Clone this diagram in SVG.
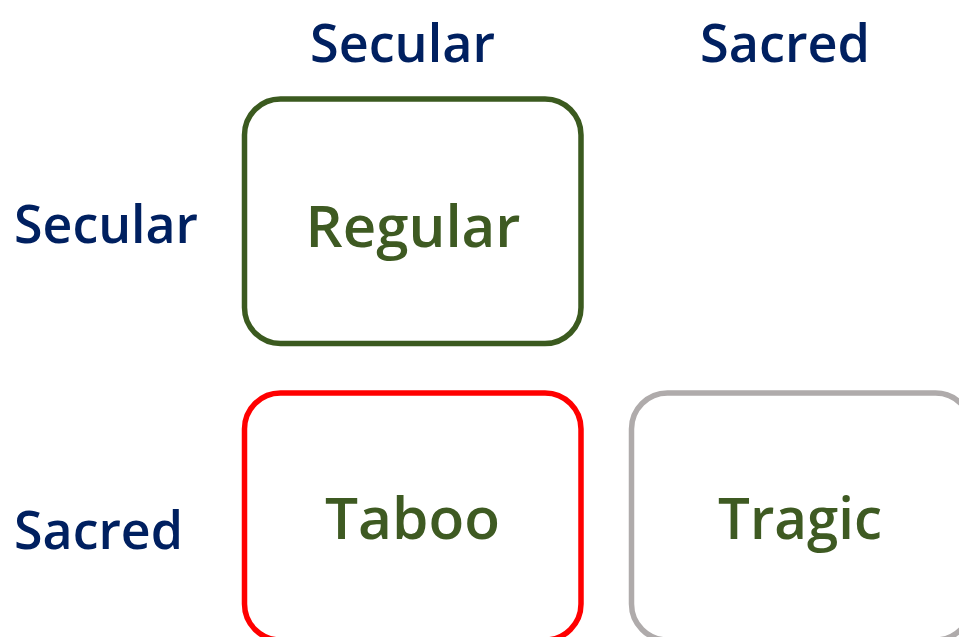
<svg xmlns="http://www.w3.org/2000/svg" width="959" height="637" viewBox="0 0 959 637">
<style>
.hdr{font-family:"Open Sans","Liberation Sans",sans-serif;font-size:53px;font-weight:600;fill:#002060}
.lbl{font-family:"Open Sans","Liberation Sans",sans-serif;font-size:58px;font-weight:600;fill:#3E5A22;text-anchor:middle}
.box{fill:#fff;stroke-width:5.5}
</style>
<rect width="959" height="637" fill="#fff"/>
<g id="headers">
<text class="hdr" x="310" y="62" textLength="185" lengthAdjust="spacingAndGlyphs">Secular</text>
<text class="hdr" x="700" y="62" textLength="170" lengthAdjust="spacingAndGlyphs">Sacred</text>
<text class="hdr" x="14" y="243" textLength="184" lengthAdjust="spacingAndGlyphs">Secular</text>
<text class="hdr" x="14" y="549" textLength="169" lengthAdjust="spacingAndGlyphs">Sacred</text>
</g>
<g id="regular">
<rect class="box" x="244.5" y="99" width="336.5" height="244.5" rx="36" stroke="#3B5A1F"/>
<text class="lbl" x="413" y="247" textLength="215" lengthAdjust="spacingAndGlyphs">Regular</text>
</g>
<g id="taboo">
<rect class="box" x="244.5" y="393" width="336.5" height="247" rx="36" stroke="#FF0000"/>
<text class="lbl" x="412.5" y="539" textLength="175" lengthAdjust="spacingAndGlyphs">Taboo</text>
</g>
<g id="tragic">
<rect class="box" x="631.5" y="393" width="340" height="247" rx="36" stroke="#AFABAB" stroke-width="6"/>
<text class="lbl" x="800" y="539" textLength="164" lengthAdjust="spacingAndGlyphs">Tragic</text>
</g>
<g id="connectors"></g>
</svg>
